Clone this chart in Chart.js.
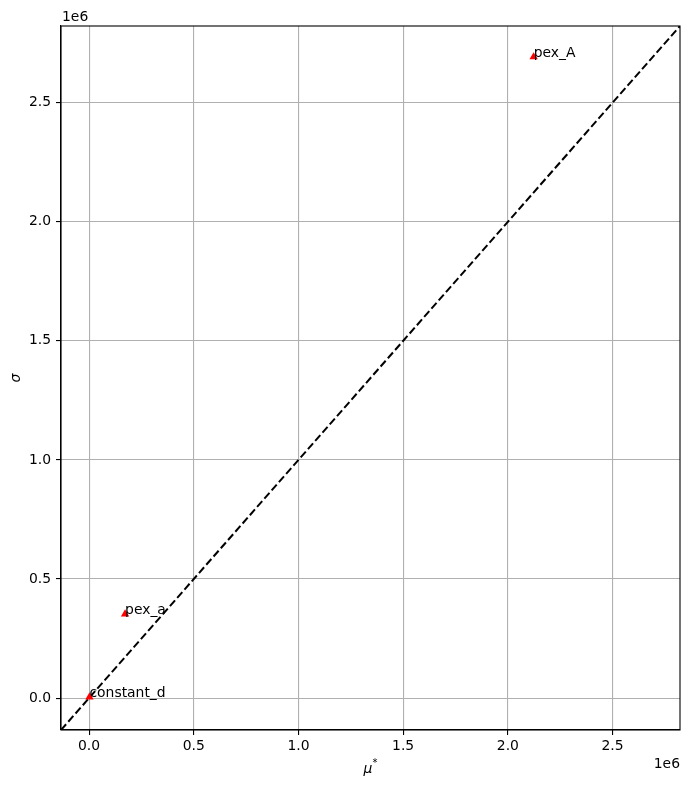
<!DOCTYPE html>
<html>
<head>
<meta charset="utf-8">
<script src="https://cdn.jsdelivr.net/npm/chart.js@4"></script>
<style>
html,body{margin:0;padding:0;background:#fff;}
#wrap{width:690px;height:790px;}
</style>
</head>
<body>
<div id="wrap"><canvas id="c" width="690" height="790"></canvas></div>
<script>
const labels = ['constant_d', 'pex_a', 'pex_A'];
const muStar = [2000, 172000, 2123000];
const sigma = [4000, 353000, 2692000];
const axisLimits = [-134000, 2822000];
const tickValues = [0, 500000, 1000000, 1500000, 2000000, 2500000];
const offsetText = '1e6';

const FONT = '"DejaVu Sans", sans-serif';
const FS = 13.9;

const decorPlugin = {
  id: 'decor',
  afterDatasetsDraw(chart) {
    const ctx = chart.ctx;
    const xs = chart.scales.x, ys = chart.scales.y;
    ctx.save();
    ctx.fillStyle = '#000';
    ctx.font = FS + 'px ' + FONT;
    ctx.textAlign = 'left';
    ctx.textBaseline = 'alphabetic';
    for (let i = 0; i < labels.length; i++) {
      ctx.fillText(labels[i], xs.getPixelForValue(muStar[i]), ys.getPixelForValue(sigma[i]));
    }
    ctx.restore();
  },
  afterDraw(chart) {
    const ctx = chart.ctx;
    const a = chart.chartArea;
    ctx.save();
    ctx.strokeStyle = '#000';
    ctx.lineWidth = 1.1;
    ctx.strokeRect(a.left, a.top, a.right - a.left, a.bottom - a.top);
    ctx.fillStyle = '#000';
    ctx.font = FS + 'px ' + FONT;
    ctx.textBaseline = 'alphabetic';
    ctx.textAlign = 'left';
    ctx.fillText(offsetText, a.left + 1, a.top - 5);
    ctx.textAlign = 'right';
    ctx.fillText(offsetText, a.right, 768);
    ctx.textAlign = 'left';
    ctx.font = 'italic ' + FS + 'px ' + FONT;
    const cx = (a.left + a.right) / 2;
    const muW = ctx.measureText('μ').width;
    ctx.font = '10px ' + FONT;
    const stW = ctx.measureText('*').width;
    const startX = cx - (muW + stW) / 2;
    ctx.font = 'italic ' + FS + 'px ' + FONT;
    ctx.fillText('μ', startX, 773);
    ctx.font = '10px ' + FONT;
    ctx.fillText('*', startX + muW, 766);
    ctx.translate(20, (a.top + a.bottom) / 2);
    ctx.rotate(-Math.PI / 2);
    ctx.font = 'italic ' + FS + 'px ' + FONT;
    ctx.textAlign = 'center';
    ctx.fillText('σ', 0, 0);
    ctx.restore();
  }
};

const fmt = v => (v / 1e6).toFixed(1);

new Chart(document.getElementById('c'), {
  type: 'scatter',
  data: {
    datasets: [
      {
        type: 'line',
        data: [{x: axisLimits[0], y: axisLimits[0]}, {x: axisLimits[1], y: axisLimits[1]}],
        borderColor: '#000',
        borderWidth: 2,
        borderDash: [7.7, 3.3],
        pointRadius: 0,
        fill: false,
        order: 2
      },
      {
        data: muStar.map((x, i) => ({x: x, y: sigma[i]})),
        pointStyle: 'triangle',
        pointRadius: 4.8,
        backgroundColor: '#ff0000',
        borderColor: '#ff0000',
        borderWidth: 0,
        order: 1
      }
    ]
  },
  options: {
    responsive: false,
    animation: false,
    devicePixelRatio: 1,
    layout: {padding: {left: 0, right: 10, top: 26, bottom: 0}},
    plugins: {legend: {display: false}, tooltip: {enabled: false}},
    scales: {
      x: {
        type: 'linear',
        min: axisLimits[0], max: axisLimits[1],
        afterBuildTicks: s => { s.ticks = tickValues.map(v => ({value: v})); },
        afterFit: s => { s.height = 60; },
        grid: {color: '#b0b0b0', lineWidth: 1.1, tickColor: '#000', tickLength: 5, drawTicks: true},
        border: {display: true, color: '#000', width: 1.1},
        ticks: {callback: v => fmt(v), color: '#000', font: {family: FONT, size: FS}, padding: 3, maxRotation: 0}
      },
      y: {
        type: 'linear',
        min: axisLimits[0], max: axisLimits[1],
        afterBuildTicks: s => { s.ticks = tickValues.map(v => ({value: v})); },
        afterFit: s => { s.width = 61; },
        grid: {color: '#b0b0b0', lineWidth: 1.1, tickColor: '#000', tickLength: 5, drawTicks: true},
        border: {display: true, color: '#000', width: 1.1},
        ticks: {callback: v => fmt(v), color: '#000', font: {family: FONT, size: FS}, padding: 5}
      }
    }
  },
  plugins: [decorPlugin]
});
</script>
</body>
</html>
